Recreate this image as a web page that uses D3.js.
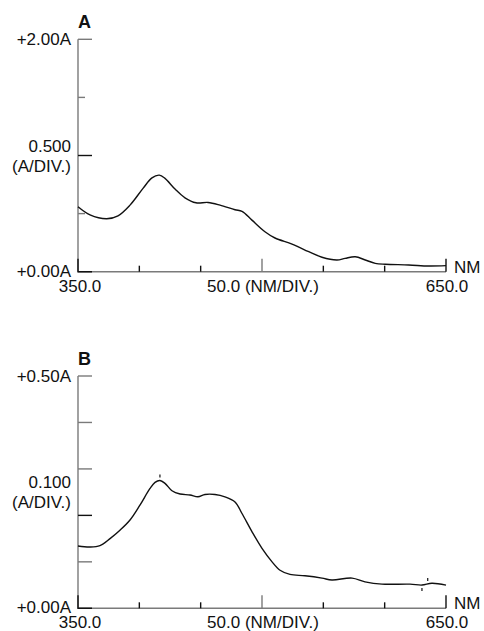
<!DOCTYPE html>
<html>
<head>
<meta charset="utf-8">
<script src="https://cdn.jsdelivr.net/npm/d3@7"></script>
<style>
  body { margin: 0; background: #fff; }
  svg { display: block; }
</style>
</head>
<body>
<div class="chart"></div>
<script>
// Spectrum A: wavelength (nm) and absorbance (A)
var nmA = [350, 359.8, 373.4, 382.6, 392.4, 403, 410.3, 416.3, 420.9, 429.1, 437.2, 446.2, 456, 465.8, 478, 483.7,
           491.8, 502.4, 510.6, 524.5, 538.1, 548.9, 561.1, 567.7, 576, 584.2, 592.3, 600.5, 619.6, 635.9, 650];
var absA = [0.559, 0.489, 0.456, 0.481, 0.573, 0.717, 0.808, 0.831, 0.803, 0.711, 0.636, 0.593, 0.596, 0.573, 0.533, 0.519,
            0.444, 0.344, 0.290, 0.238, 0.172, 0.124, 0.101, 0.115, 0.129, 0.101, 0.072, 0.064, 0.058, 0.049, 0.052];

// Spectrum B
var nmB = [350, 359.8, 367.9, 376.1, 384.2, 392.4, 400.5, 408.7, 412.8, 416.8, 420.9, 426.6, 433.2, 441.3, 447.8, 453.5,
           461.7, 469.8, 478, 483.7, 491.8, 500, 508.2, 514.7, 522.8, 535, 548.9, 557, 573.4, 584, 597.8, 620.7, 630.4, 638.5, 650];
var absB = [0.134, 0.132, 0.135, 0.150, 0.168, 0.190, 0.222, 0.258, 0.271, 0.275, 0.269, 0.253, 0.246, 0.244, 0.240, 0.245,
            0.245, 0.240, 0.229, 0.204, 0.165, 0.129, 0.100, 0.082, 0.073, 0.070, 0.065, 0.061, 0.065, 0.057, 0.052, 0.052, 0.050, 0.054, 0.050];

// peak / valley markers printed by the instrument on spectrum B
var markNmB = [416.8, 635.1, 630.4];
var markDirB = [-1, -1, 1];

// axis ticks
var xTicks = [400, 450, 500, 550, 600, 650];
var xTallTicks = [500, 650];
var yTicksA = [0.5, 1.0, 1.5, 2.0];
var yTicksB = [0.1, 0.2, 0.3, 0.4, 0.5];

var width = 484, height = 631;
var fontFace = "'Liberation Sans', Arial, Helvetica, sans-serif";
var axisGray = "#7a7a7a";
var ink = "#111";

var svg = d3.select("div.chart").append("svg")
    .attr("width", width)
    .attr("height", height);

function drawPanel(opts) {
  var x = d3.scaleLinear().domain([350, 650]).range([78, 446]);
  var y = d3.scaleLinear().domain([0, opts.yMax]).range([opts.bottom, opts.top]);
  var g = svg.append("g");

  // axis lines
  g.append("line")
    .attr("x1", x(350)).attr("x2", x(350))
    .attr("y1", y(0)).attr("y2", y(opts.yMax))
    .attr("stroke", axisGray).attr("stroke-width", 1.4);
  g.append("line")
    .attr("x1", x(350)).attr("x2", x(650))
    .attr("y1", y(0)).attr("y2", y(0))
    .attr("stroke", axisGray).attr("stroke-width", 1.4);

  // origin corner drawn darker
  g.append("path")
    .attr("d", `M${x(350)},${y(0) - 13}V${y(0)}H${x(350) + 14}`)
    .attr("fill", "none").attr("stroke", ink).attr("stroke-width", 1.4);

  // y ticks (pointing into the plot)
  g.selectAll(".ytick").data(opts.yTicks).enter().append("line")
    .attr("x1", x(350))
    .attr("x2", d => x(350) + (opts.shortY.indexOf(d) >= 0 ? 7 : 14))
    .attr("y1", d => y(d)).attr("y2", d => y(d))
    .attr("stroke", d => d === opts.darkY ? ink : axisGray)
    .attr("stroke-width", 1.4);

  // x ticks (pointing up)
  g.selectAll(".xtick").data(xTicks).enter().append("line")
    .attr("x1", d => x(d)).attr("x2", d => x(d))
    .attr("y1", y(0))
    .attr("y2", d => y(0) - (xTallTicks.indexOf(d) >= 0 ? 13 : 6))
    .attr("stroke", d => d === 500 ? axisGray : ink)
    .attr("stroke-width", 1.4);

  // the spectrum
  var line = d3.line()
    .x(d => x(d[0]))
    .y(d => y(d[1]))
    .curve(d3.curveCatmullRom.alpha(0.5));
  g.append("path")
    .datum(d3.zip(opts.nm, opts.abs))
    .attr("d", line)
    .attr("fill", "none")
    .attr("stroke", ink)
    .attr("stroke-width", 1.4);

  // small peak markers
  if (opts.marks) {
    var interp = function (v) {
      var i = d3.bisectLeft(opts.nm, v);
      if (i <= 0) return opts.abs[0];
      var t = (v - opts.nm[i - 1]) / (opts.nm[i] - opts.nm[i - 1]);
      return opts.abs[i - 1] + t * (opts.abs[i] - opts.abs[i - 1]);
    };
    g.selectAll(".mark").data(opts.marks).enter().append("line")
      .attr("x1", d => x(d[0])).attr("x2", d => x(d[0]))
      .attr("y1", d => y(interp(d[0])) + d[1] * 3)
      .attr("y2", d => y(interp(d[0])) + d[1] * 6)
      .attr("stroke", ink).attr("stroke-width", 1.2);
  }

  // text
  var text = function (s, tx, ty, anchor, size, weight) {
    return g.append("text")
      .attr("x", tx).attr("y", ty)
      .attr("text-anchor", anchor)
      .attr("font-family", fontFace)
      .attr("font-size", size)
      .attr("font-weight", weight || "normal")
      .attr("fill", ink)
      .text(s);
  };
  var midY = (y(0) + y(opts.yMax)) / 2;
  text(opts.letter, x(350), y(opts.yMax) - 11, "start", 18, "bold");
  text(opts.topLabel, 71, y(opts.yMax) + 6, "end", 17);
  text(opts.divLabel, 71, midY - 4, "end", 17);
  text("(A/DIV.)", 71, midY + 16, "end", 17);
  text("+0.00A", 71, y(0) + 5, "end", 17);
  text("350.0", x(350) + 2, y(0) + 20, "middle", 17);
  text("50.0 (NM/DIV.)", x(500) + 1, y(0) + 20, "middle", 17);
  text("650.0", x(650) + 1, y(0) + 20, "middle", 17);
  text("NM", 454, y(0) + 1, "start", 17);
}

drawPanel({
  letter: "A", top: 39.3, bottom: 271.7, yMax: 2.0,
  yTicks: yTicksA, shortY: [0.5, 1.5], darkY: 1.0,
  topLabel: "+2.00A", divLabel: "0.500",
  nm: nmA, abs: absA
});

drawPanel({
  letter: "B", top: 376, bottom: 608.3, yMax: 0.5,
  yTicks: yTicksB, shortY: [], darkY: 0.2,
  topLabel: "+0.50A", divLabel: "0.100",
  nm: nmB, abs: absB,
  marks: d3.zip(markNmB, markDirB)
});
</script>
</body>
</html>
